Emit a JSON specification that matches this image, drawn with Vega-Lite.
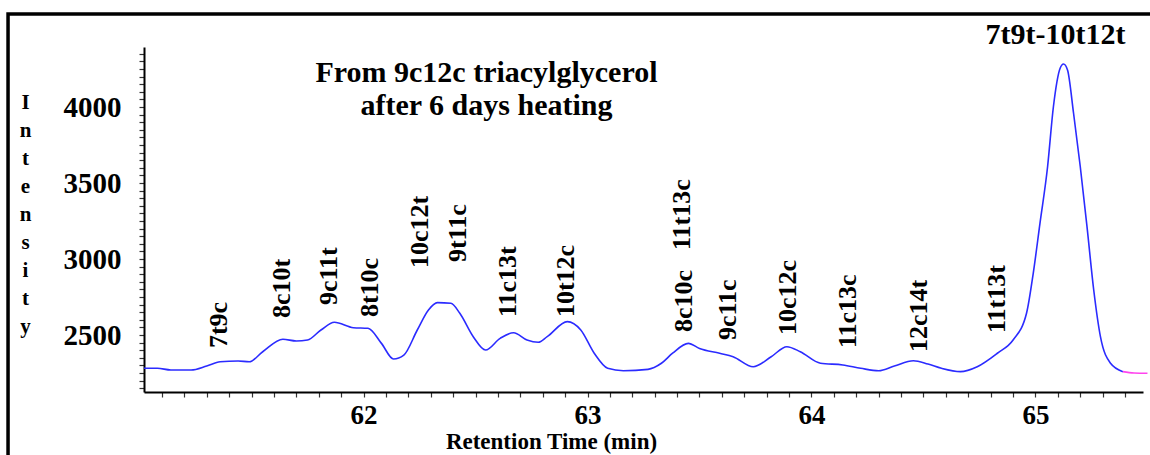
{
  "$schema": "https://vega.github.io/schema/vega-lite/v6.json",
  "width": 999,
  "height": 345,
  "autosize": "none",
  "padding": {"left": 144, "top": 47, "right": 7, "bottom": 63},
  "background": "white",
  "config": {"view": {"stroke": null}, "font": "Liberation Serif"},
  "layer": [
    {
      "data": {"values": [{}]},
      "mark": {"type": "rect", "fillOpacity": 0, "stroke": "black", "strokeWidth": 3.5, "clip": false},
      "encoding": {
        "x": {"datum": 60.413, "type": "quantitative", "scale": {"domain": [61.02, 65.48], "nice": false, "zero": false}},
        "x2": {"datum": 65.7},
        "y": {"datum": 4612, "type": "quantitative", "scale": {"domain": [2125, 4395], "nice": false, "zero": false}},
        "y2": {"datum": 1600}
      }
    },
    {
      "data": {"values": [
        {"t": 61.02, "v": 2281, "part": "a"}, {"t": 61.08, "v": 2281, "part": "a"}, {"t": 61.14, "v": 2270, "part": "a"},
        {"t": 61.23, "v": 2270, "part": "a"}, {"t": 61.30, "v": 2296, "part": "a"}, {"t": 61.36, "v": 2324, "part": "a"},
        {"t": 61.44, "v": 2329, "part": "a"}, {"t": 61.49, "v": 2324, "part": "a"}, {"t": 61.55, "v": 2390, "part": "a"},
        {"t": 61.64, "v": 2472, "part": "a"}, {"t": 61.70, "v": 2461, "part": "a"}, {"t": 61.75, "v": 2467, "part": "a"},
        {"t": 61.81, "v": 2533, "part": "a"}, {"t": 61.87, "v": 2584, "part": "a"}, {"t": 61.955, "v": 2548, "part": "a"},
        {"t": 62.02, "v": 2544, "part": "a"}, {"t": 62.08, "v": 2445, "part": "a"}, {"t": 62.134, "v": 2342, "part": "a"},
        {"t": 62.18, "v": 2368, "part": "a"}, {"t": 62.24, "v": 2533, "part": "a"}, {"t": 62.29, "v": 2665, "part": "a"},
        {"t": 62.33, "v": 2713, "part": "a"}, {"t": 62.39, "v": 2709, "part": "a"}, {"t": 62.43, "v": 2643, "part": "a"},
        {"t": 62.49, "v": 2489, "part": "a"}, {"t": 62.545, "v": 2401, "part": "a"}, {"t": 62.61, "v": 2478, "part": "a"},
        {"t": 62.67, "v": 2515, "part": "a"}, {"t": 62.73, "v": 2467, "part": "a"}, {"t": 62.78, "v": 2452, "part": "a"},
        {"t": 62.82, "v": 2489, "part": "a"}, {"t": 62.91, "v": 2588, "part": "a"}, {"t": 62.97, "v": 2533, "part": "a"},
        {"t": 63.03, "v": 2380, "part": "a"}, {"t": 63.09, "v": 2281, "part": "a"}, {"t": 63.16, "v": 2265, "part": "a"},
        {"t": 63.27, "v": 2274, "part": "a"}, {"t": 63.33, "v": 2314, "part": "a"}, {"t": 63.38, "v": 2380, "part": "a"},
        {"t": 63.45, "v": 2445, "part": "a"}, {"t": 63.50, "v": 2412, "part": "a"}, {"t": 63.59, "v": 2380, "part": "a"},
        {"t": 63.65, "v": 2357, "part": "a"}, {"t": 63.74, "v": 2291, "part": "a"}, {"t": 63.82, "v": 2357, "part": "a"},
        {"t": 63.89, "v": 2423, "part": "a"}, {"t": 63.95, "v": 2390, "part": "a"}, {"t": 64.04, "v": 2314, "part": "a"},
        {"t": 64.14, "v": 2303, "part": "a"}, {"t": 64.22, "v": 2281, "part": "a"}, {"t": 64.30, "v": 2265, "part": "a"},
        {"t": 64.37, "v": 2296, "part": "a"}, {"t": 64.455, "v": 2331, "part": "a"}, {"t": 64.52, "v": 2309, "part": "a"},
        {"t": 64.58, "v": 2281, "part": "a"}, {"t": 64.665, "v": 2259, "part": "a"}, {"t": 64.74, "v": 2291, "part": "a"},
        {"t": 64.83, "v": 2380, "part": "a"}, {"t": 64.90, "v": 2467, "part": "a"}, {"t": 64.96, "v": 2643, "part": "a"},
        {"t": 64.99, "v": 2906, "part": "a"}, {"t": 65.02, "v": 3235, "part": "a"}, {"t": 65.054, "v": 3607, "part": "a"},
        {"t": 65.08, "v": 4002, "part": "a"}, {"t": 65.11, "v": 4255, "part": "a"}, {"t": 65.125, "v": 4283, "part": "a"},
        {"t": 65.143, "v": 4244, "part": "a"}, {"t": 65.17, "v": 3959, "part": "a"}, {"t": 65.20, "v": 3607, "part": "a"},
        {"t": 65.23, "v": 3213, "part": "a"}, {"t": 65.26, "v": 2796, "part": "a"}, {"t": 65.29, "v": 2489, "part": "a"},
        {"t": 65.335, "v": 2314, "part": "a"}, {"t": 65.39, "v": 2259, "part": "a"},
        {"t": 65.39, "v": 2259, "part": "b"}, {"t": 65.44, "v": 2250, "part": "b"}, {"t": 65.50, "v": 2248, "part": "b"}
      ]},
      "mark": {"type": "line", "interpolate": "monotone", "strokeWidth": 1.6},
      "encoding": {
        "x": {
          "field": "t", "type": "quantitative",
          "scale": {"domain": [61.02, 65.48], "nice": false, "zero": false},
          "axis": {
            "title": "Retention Time (min)",
            "titleFont": "Liberation Serif", "titleFontSize": 23, "titleFontWeight": "bold", "titleColor": "black",
            "titleX": 407, "titleY": 49, "titleAlign": "center", "titleBaseline": "middle", "titleAnchor": null,
            "values": [61.1,61.2,61.3,61.4,61.5,61.6,61.7,61.8,61.9,62,62.1,62.2,62.3,62.4,62.5,62.6,62.7,62.8,62.9,63,63.1,63.2,63.3,63.4,63.5,63.6,63.7,63.8,63.9,64,64.1,64.2,64.3,64.4,64.5,64.6,64.7,64.8,64.9,65,65.1,65.2,65.3,65.4],
            "tickCount": 1000,
            "labelExpr": "abs(datum.value - round(datum.value)) < 0.001 ? format(datum.value, 'd') : ''",
            "labelOverlap": false,
            "labelFont": "Liberation Serif", "labelFontSize": 27, "labelFontWeight": "bold", "labelColor": "black",
            "labelPadding": 5,
            "grid": false, "domainColor": "black", "domainWidth": 2, "tickColor": "#333", "tickSize": 5, "tickWidth": 1.2
          }
        },
        "y": {
          "field": "v", "type": "quantitative",
          "scale": {"domain": [2125, 4395], "nice": false, "zero": false},
          "axis": {
            "title": ["I", "n", "t", "e", "n", "s", "i", "t", "y"],
            "titleFont": "Liberation Serif", "titleFontSize": 21, "titleFontWeight": "bold", "titleColor": "black",
            "titleAngle": 0, "titleX": -119, "titleY": 61, "titleAlign": "center", "titleBaseline": "alphabetic",
            "titleLineHeight": 28, "titleAnchor": null,
            "values": [2150,2200,2250,2300,2350,2400,2450,2500,2550,2600,2650,2700,2750,2800,2850,2900,2950,3000,3050,3100,3150,3200,3250,3300,3350,3400,3450,3500,3550,3600,3650,3700,3750,3800,3850,3900,3950,4000,4050,4100,4150,4200,4250,4300,4350],
            "tickCount": 1000,
            "labelExpr": "datum.value % 500 == 0 ? format(datum.value, 'd') : ''",
            "labelOverlap": false,
            "labelFont": "Liberation Serif", "labelFontSize": 29, "labelFontWeight": "bold", "labelColor": "black",
            "labelPadding": 18,
            "grid": false, "domainColor": "black", "domainWidth": 2, "tickColor": "#333", "tickSize": 5, "tickWidth": 1.2
          }
        },
        "color": {"field": "part", "type": "nominal", "scale": {"domain": ["a", "b"], "range": ["#2b2bff", "#ff44ee"]}, "legend": null}
      }
    },
    {
      "data": {"values": [
        {"name": "7t9c", "t": 61.353, "v": 2414},
        {"name": "8c10t", "t": 61.638, "v": 2612},
        {"name": "9c11t", "t": 61.844, "v": 2697},
        {"name": "8t10c", "t": 62.031, "v": 2618},
        {"name": "10c12t", "t": 62.254, "v": 2941},
        {"name": "9t11c", "t": 62.424, "v": 2980},
        {"name": "11c13t", "t": 62.647, "v": 2618},
        {"name": "10t12c", "t": 62.902, "v": 2618},
        {"name": "11t13c", "t": 63.424, "v": 3059},
        {"name": "8c10c", "t": 63.429, "v": 2520},
        {"name": "9c11c", "t": 63.629, "v": 2467},
        {"name": "10c12c", "t": 63.893, "v": 2500},
        {"name": "11c13c", "t": 64.165, "v": 2414},
        {"name": "12c14t", "t": 64.478, "v": 2388},
        {"name": "11t13t", "t": 64.83, "v": 2513}
      ]},
      "mark": {"type": "text", "angle": 270, "align": "left", "baseline": "middle", "font": "Liberation Serif", "fontSize": 26, "fontWeight": "bold", "color": "black"},
      "encoding": {
        "x": {"field": "t", "type": "quantitative", "scale": {"domain": [61.02, 65.48], "nice": false, "zero": false}},
        "y": {"field": "v", "type": "quantitative", "scale": {"domain": [2125, 4395], "nice": false, "zero": false}},
        "text": {"field": "name"}
      }
    },
    {
      "data": {"values": [{"name": "7t9t-10t12t", "t": 65.089, "v": 4474}]},
      "mark": {"type": "text", "align": "center", "baseline": "middle", "font": "Liberation Serif", "fontSize": 30, "fontWeight": "bold", "color": "black", "clip": false},
      "encoding": {
        "x": {"field": "t", "type": "quantitative", "scale": {"domain": [61.02, 65.48], "nice": false, "zero": false}},
        "y": {"field": "v", "type": "quantitative", "scale": {"domain": [2125, 4395], "nice": false, "zero": false}},
        "text": {"field": "name"}
      }
    },
    {
      "data": {"values": [{}]},
      "mark": {"type": "text", "align": "center", "baseline": "alphabetic", "font": "Liberation Serif", "fontSize": 30, "fontWeight": "bold", "color": "black", "lineHeight": 33, "lineBreak": "\n", "text": "From 9c12c triacylglycerol\nafter 6 days heating"},
      "encoding": {
        "x": {"datum": 62.549, "type": "quantitative", "scale": {"domain": [61.02, 65.48], "nice": false, "zero": false}},
        "y": {"datum": 4165, "type": "quantitative", "scale": {"domain": [2125, 4395], "nice": false, "zero": false}}
      }
    }
  ]
}
